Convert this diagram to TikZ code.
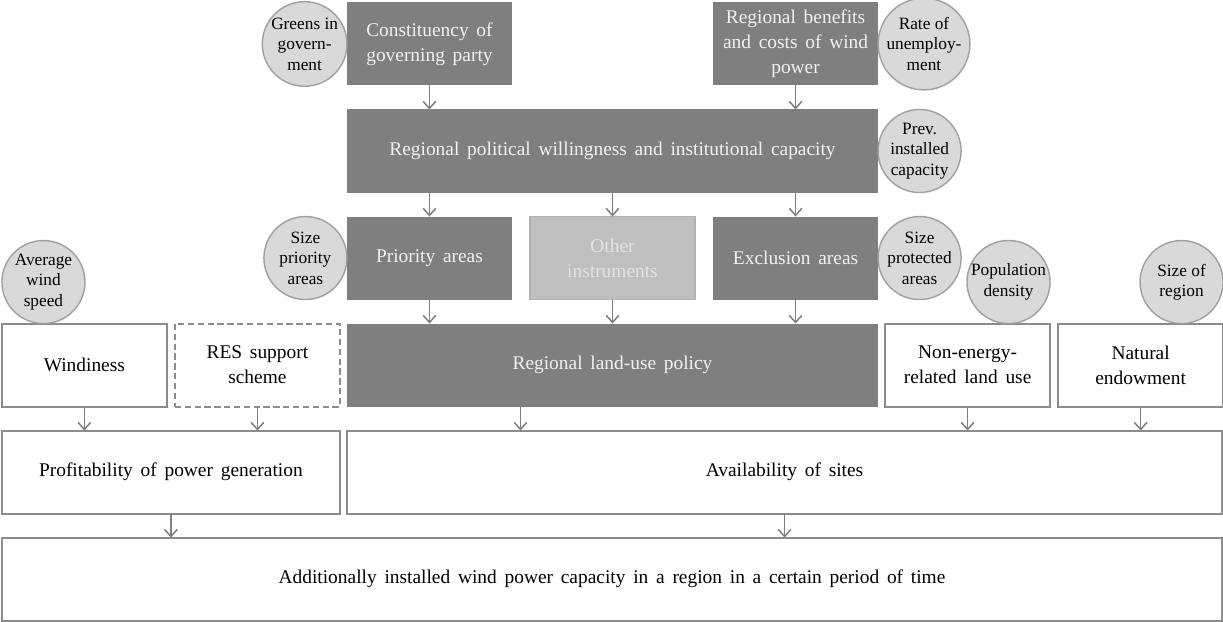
\documentclass[tikz,border=0pt]{standalone}
\usepackage{fontspec}
\setmainfont{Liberation Serif}
\usepackage{tikz}
\usetikzlibrary{arrows.meta, positioning}
\definecolor{boxgray}{RGB}{127,127,127}
\definecolor{paleinst}{RGB}{191,191,191}
\definecolor{paleedge}{RGB}{178,178,178}
\definecolor{ringfill}{RGB}{217,217,217}
\definecolor{ringline}{RGB}{160,160,160}
\definecolor{edgegray}{RGB}{140,140,140}
\definecolor{arrowgray}{RGB}{128,128,128}
\definecolor{softwhite}{RGB}{242,242,242}
\definecolor{faintwhite}{RGB}{228,228,228}
\newcommand{\boxfont}{\fontsize{13.8}{17.7}\selectfont\spaceskip=0.4em plus 0.1em\relax}
\newcommand{\ringfont}{\fontsize{12.3}{14.5}\selectfont}
\tikzset{
  darkbox/.style={rectangle, fill=boxgray, text=softwhite, align=center,
    minimum width=4.125cm, minimum height=2.075cm, inner sep=2pt,
    outer sep=0pt, font=\boxfont},
  widedark/.style={darkbox, minimum width=13.275cm},
  palebox/.style={darkbox, fill=paleinst, draw=paleedge, line width=0.8pt,
    text=faintwhite},
  plainbox/.style={rectangle, draw=edgegray, line width=1.4pt, fill=white,
    align=center, minimum width=4.125cm, minimum height=2.075cm,
    inner sep=2pt, outer sep=0pt, font=\boxfont},
  dashbox/.style={plainbox, dash pattern=on 4.5pt off 2.5pt},
  ring/.style={circle, draw=ringline, line width=1pt, fill=ringfill,
    align=center, minimum size=2.075cm, inner sep=0pt, outer sep=0pt,
    font=\ringfont},
  arrow/.style={-{Straight Barb[length=5pt,width=9pt]}, line width=1.1pt,
    color=arrowgray},
}
\begin{document}
\begin{tikzpicture}[x=0.025cm, y=-0.025cm]
  \useasboundingbox (0,0) rectangle (1223,621);

  % Political level
  \node[widedark] (polit) at (612.5,151)
    {Regional political willingness and institutional capacity};
  \node[darkbox, above=0.6cm of polit.north west, anchor=south west] (const)
    {Constituency of\\governing party};
  \node[darkbox, above=0.6cm of polit.north east, anchor=south east] (benef)
    {Regional benefits\\and costs of wind\\power};

  % Instruments
  \node[darkbox, below=0.6cm of polit.south west, anchor=north west] (prio) {Priority areas};
  \node[palebox, below=0.6cm of polit] (other) {Other\\instruments};
  \node[darkbox, below=0.6cm of polit.south east, anchor=north east] (excl) {Exclusion areas};
  \node[widedark, below=0.6cm of other] (landuse) {Regional land-use policy};

  % Side factors
  \node[dashbox, left=0.175cm of landuse.north west, anchor=north east] (res) {RES support\\scheme};
  \node[plainbox, left=0.2cm of res] (wind) {Windiness};
  \node[plainbox, right=0.175cm of landuse.north east, anchor=north west] (nonen)
    {Non-energy-\\related land use};
  \node[plainbox, right=0.2cm of nonen] (natend) {Natural\\endowment};

  % Outcomes
  \node[plainbox, minimum width=8.45cm, below=0.6cm of wind.south west, anchor=north west] (profit)
    {Profitability of power generation};
  \node[plainbox, minimum width=21.875cm, below=0.6cm of landuse.south west, anchor=north west] (avail)
    {Availability of sites};
  \node[plainbox, minimum width=30.5cm, below=0.6cm of profit.south west, anchor=north west] (bottom)
    {Additionally installed wind power capacity in a region in a certain period of time};

  % Indicators
  \node[ring, left=0cm of const] (greens) {Greens in\\govern-\\ment};
  \node[ring, right=0cm of benef] (unemp) {Rate of\\unemploy-\\ment};
  \node[ring, right=0cm of polit] (prevcap) {Prev.\\installed\\capacity};
  \node[ring, left=0cm of prio] (sizeprio) {Size\\priority\\areas};
  \node[ring, right=0cm of excl] (sizeprot) {Size\\protected\\areas};
  \node[ring, above=0cm of wind.north west, xshift=1.04cm] (avgwind) {Average\\wind\\speed};
  \node[ring, above=0cm of nonen.north east, xshift=-1.04cm] (popdens) {Population\\density};
  \node[ring, above=0cm of natend.north east, xshift=-1.04cm] (sizereg) {Size of\\region};

  % Connectors
  \foreach \f/\t in {const/polit, benef/polit, prio/landuse, other/landuse, excl/landuse,
                     wind/profit, res/profit, nonen/avail, natend/avail,
                     profit/bottom, avail/bottom}
    \draw[arrow] (\f.south) -- (\f.south |- \t.north);
  \foreach \t in {prio, other, excl}
    \draw[arrow] (\t.north |- polit.south) -- (\t.north);
  \coordinate (lufoot) at ([xshift=-2.3cm]landuse.south);
  \draw[arrow] (lufoot) -- (lufoot |- avail.north);
\end{tikzpicture}
\end{document}
